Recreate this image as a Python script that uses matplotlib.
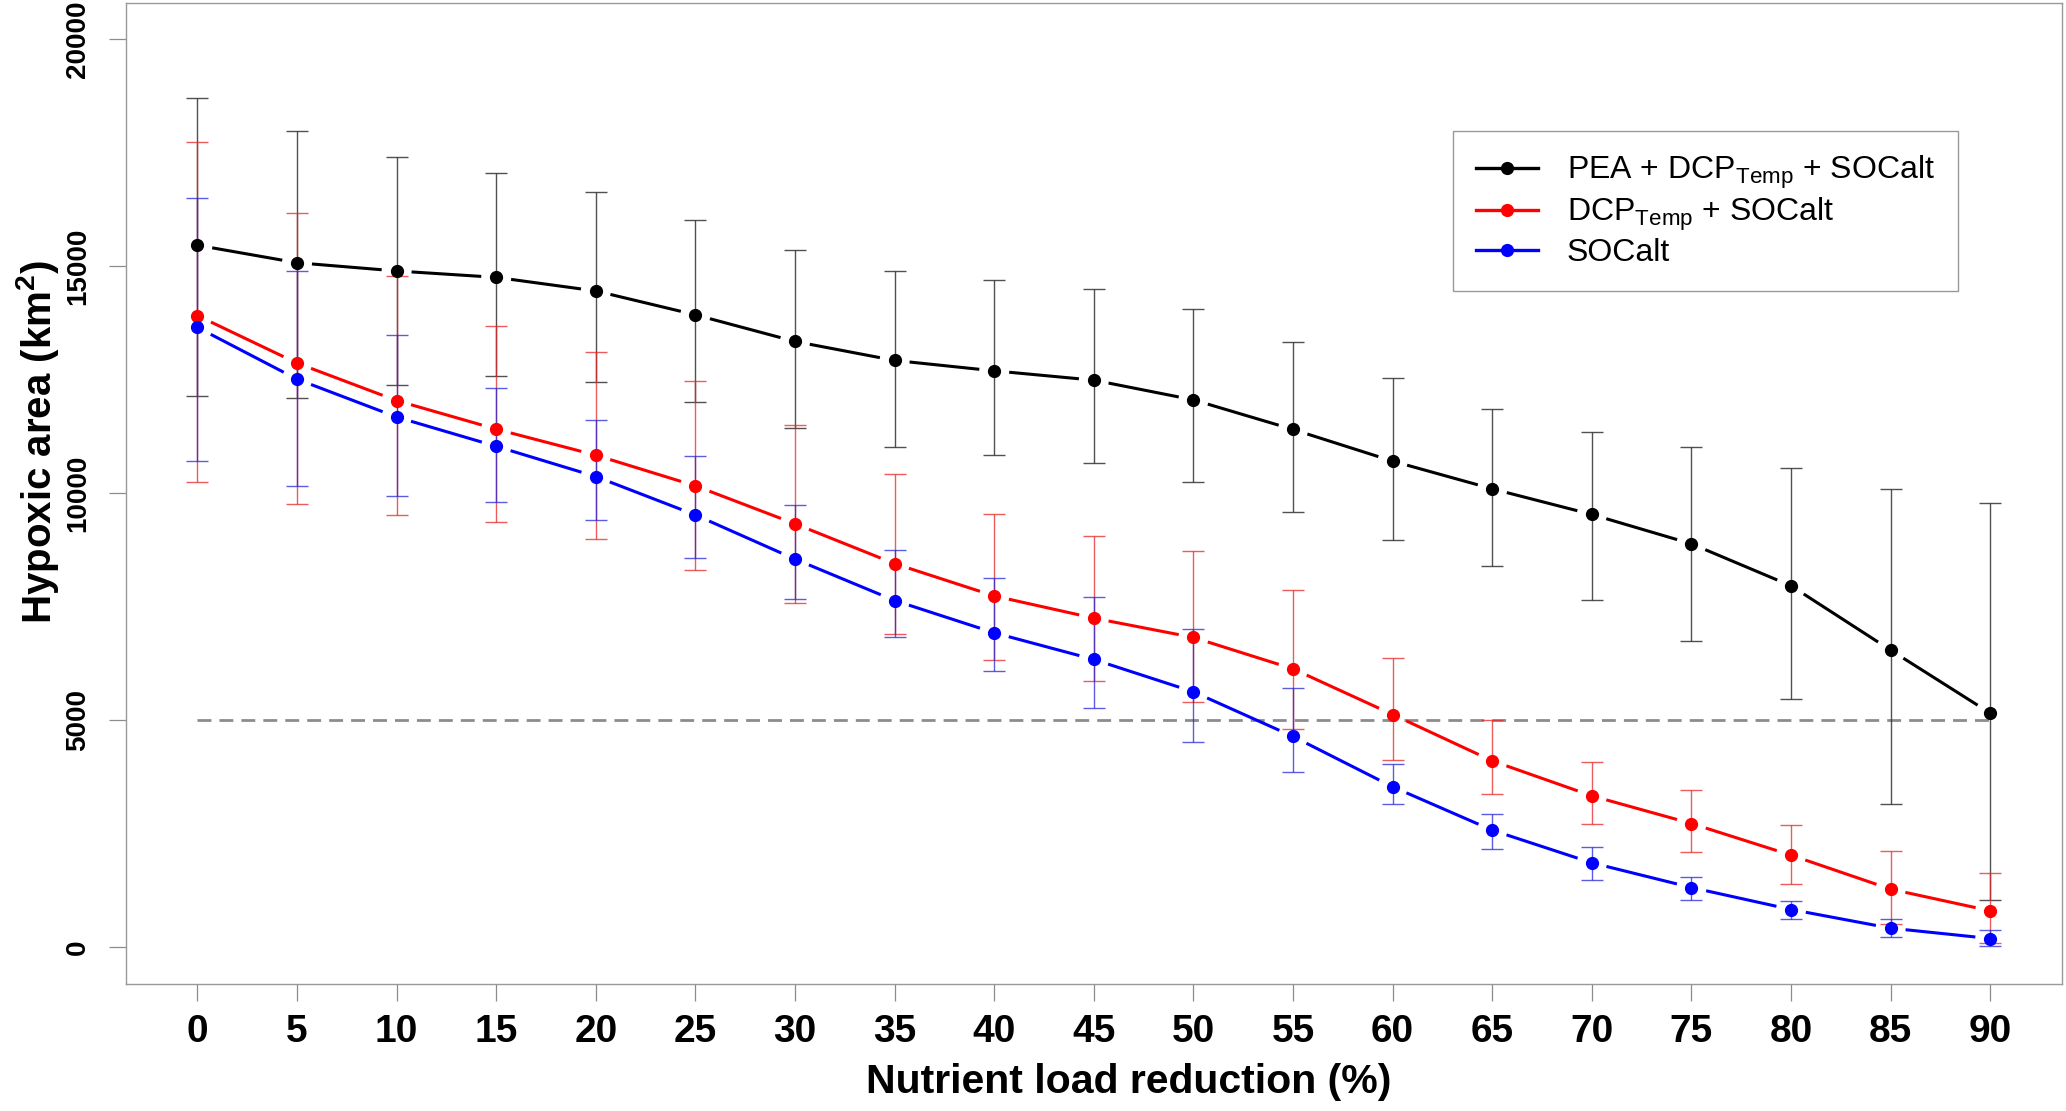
import numpy as np
import matplotlib
matplotlib.use('Agg')
import matplotlib.pyplot as plt
from matplotlib.lines import Line2D

plt.rcParams['font.family'] = ['Liberation Sans', 'DejaVu Sans']
plt.rcParams['mathtext.fontset'] = 'custom'
plt.rcParams['mathtext.rm'] = 'Liberation Sans'
plt.rcParams['mathtext.bf'] = 'Liberation Sans:bold'
plt.rcParams['mathtext.it'] = 'Liberation Sans:italic'

# Nutrient load reduction (%)
reduction = [0, 5, 10, 15, 20, 25, 30, 35, 40, 45, 50, 55, 60, 65, 70, 75, 80, 85, 90]

# PEA + DCP_Temp + SOCalt
pea_mean = [15465, 15079, 14898, 14757, 14458, 13932, 13345, 12927, 12698, 12493,
            12059, 11407, 10709, 10099, 9535, 8888, 7963, 6546, 5158]
pea_upper = [18713, 17974, 17407, 17046, 16627, 16010, 15350, 14901, 14703, 14491,
             14064, 13330, 12530, 11854, 11348, 11025, 10548, 10099, 9777]
pea_lower = [12137, 12106, 12381, 12578, 12456, 12015, 11429, 11017, 10841, 10665,
             10250, 9600, 8976, 8389, 7647, 6759, 5474, 3147, 1040]

# DCP_Temp + SOCalt
dcp_mean = [13915, 12869, 12043, 11414, 10841, 10165, 9329, 8452, 7740, 7251,
            6826, 6134, 5129, 4108, 3337, 2728, 2031, 1282, 805]
dcp_upper = [17738, 16173, 14780, 13687, 13110, 12471, 11509, 10423, 9542, 9060,
             8720, 7879, 6370, 5004, 4072, 3477, 2692, 2119, 1634]
dcp_lower = [10249, 9762, 9518, 9368, 8998, 8316, 7589, 6899, 6326, 5870,
             5394, 4813, 4123, 3389, 2714, 2090, 1392, 511, 100]

# SOCalt
soc_mean = [13655, 12515, 11681, 11036, 10370, 9524, 8551, 7640, 6928, 6341,
            5628, 4645, 3536, 2581, 1862, 1318, 834, 423, 195]
soc_upper = [16503, 14898, 13490, 12326, 11608, 10818, 9747, 8749, 8132, 7713,
             7009, 5709, 4042, 2927, 2207, 1553, 1018, 621, 379]
soc_lower = [10721, 10155, 9935, 9801, 9410, 8580, 7677, 6847, 6084, 5275,
             4526, 3852, 3154, 2163, 1473, 1040, 628, 225, 34]

target = 5000
labels = ['PEA + DCP$_{\\rm Temp}$ + SOCalt', 'DCP$_{\\rm Temp}$ + SOCalt', 'SOCalt']
colors = ['black', 'red', 'blue']

W, H = 2066, 1111
XLIM, YLIM = (-3.6, 93.6), (-800, 20800)
ax_w_px, ax_h_px = 2062 - 125.7, 983.7 - 3
fig = plt.figure(figsize=(W / 100, H / 100), dpi=100)
ax = fig.add_axes([125.7 / W, 1 - 983.7 / H, ax_w_px / W, ax_h_px / H])
ax.set_xlim(*XLIM)
ax.set_ylim(*YLIM)

# pixels per data unit
sx = ax_w_px / (XLIM[1] - XLIM[0])
sy = ax_h_px / (YLIM[1] - YLIM[0])


def gapped_line(x, y, color, gap=15.0, lw=2.2):
    # line broken around each point, like R's type="b"
    x = np.asarray(x, float)
    y = np.asarray(y, float)
    for i in range(len(x) - 1):
        dxp = (x[i + 1] - x[i]) * sx
        dyp = (y[i + 1] - y[i]) * sy
        L = np.hypot(dxp, dyp)
        fx = gap * dxp / L / sx
        fy = gap * dyp / L / sy
        ax.add_line(Line2D([x[i] + fx, x[i + 1] - fx], [y[i] + fy, y[i + 1] - fy],
                           color=color, lw=lw, solid_capstyle='butt', zorder=3))


ax.plot([reduction[0], reduction[-1]], [target, target], color='#8c8c8c', lw=2.0,
        linestyle=(0, (5.0, 2.9)), zorder=1)

series = [(pea_mean, pea_lower, pea_upper), (dcp_mean, dcp_lower, dcp_upper),
          (soc_mean, soc_lower, soc_upper)]
ecols = [(0.2, 0.2, 0.2, 0.85), (0.9, 0.15, 0.15, 0.75), (0.15, 0.15, 0.85, 0.75)]
for (m, lo, hi), c, ec in zip(series, colors, ecols):
    m, lo, hi = np.array(m), np.array(lo), np.array(hi)
    ax.errorbar(reduction, m, yerr=[m - lo, hi - m], ls='none', marker='none',
                ecolor=ec, elinewidth=1.0, capsize=8, capthick=1.0, zorder=2)
for (m, lo, hi), c in zip(series, colors):
    gapped_line(reduction, m, c)
    ax.plot(reduction, m, ls='none', marker='o', color=c, ms=8.5, zorder=4)

ax.set_xlim(*XLIM)
ax.set_ylim(*YLIM)
ax.set_xticks(reduction)
ax.set_xticklabels([str(v) for v in reduction], fontsize=28, fontweight='bold')
yt = [0, 5000, 10000, 15000, 20000]
ax.set_yticks(yt)
ax.set_yticklabels([str(v) for v in yt], fontsize=20, fontweight='bold',
                   rotation=90, va='center')
ax.tick_params(axis='x', length=12, width=0.9, color='#8c8c8c', pad=10)
ax.tick_params(axis='y', length=12, width=0.9, color='#8c8c8c', pad=13)
for s in ax.spines.values():
    s.set_color('#999999')
    s.set_linewidth(1.0)

fig.text(866 / W, 1 - 1093 / H, 'Nutrient load reduction (%)', fontsize=29.5,
         fontweight='bold', ha='left', va='baseline')
fig.text(14 / W, 1 - 442 / H, 'Hypoxic area (km$^{\\bf 2}$)', fontsize=29,
         fontweight='bold', ha='left', va='center', rotation=90)

handles = [Line2D([], [], color=c, lw=2.4, marker='o', ms=8.5) for c in colors]
leg = ax.legend(handles, labels, loc='upper left',
                bbox_to_anchor=(1452.7 / W, 1 - 130.7 / H), bbox_transform=fig.transFigure,
                borderaxespad=0, fontsize=23, handlelength=1.95, handletextpad=0.9,
                borderpad=0.72, labelspacing=0.15, fancybox=False, framealpha=1,
                edgecolor='#999999')
leg.get_frame().set_linewidth(1.0)

fig.savefig('out.png', dpi=100)
